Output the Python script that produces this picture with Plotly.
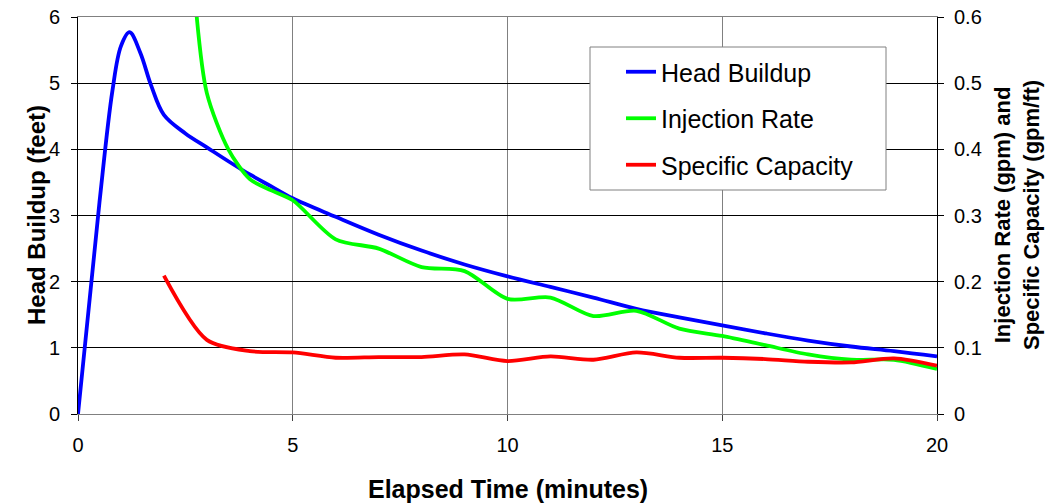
import plotly.graph_objects as go

# Elapsed time (minutes) and head buildup (feet)
head_time = [0, 0.5, 0.8, 1.0, 1.2, 1.45, 1.7, 2.0, 2.5, 3, 3.5, 4, 4.5,
             5, 6, 7, 8, 9, 10, 11, 12, 13, 14, 15, 16, 17, 18, 19, 20]
head_buildup = [0, 3.2, 4.88, 5.56, 5.77, 5.46, 4.97, 4.52, 4.24, 4.03, 3.82,
                3.62, 3.44, 3.26, 2.98, 2.71, 2.47, 2.26, 2.08, 1.92, 1.76, 1.59, 1.46,
                1.34, 1.22, 1.11, 1.02, 0.95, 0.87]

# Injection rate (gpm)
rate_time = [2.5, 2.75, 3, 3.5, 4, 4.5, 5, 6, 7, 8, 9, 10, 11, 12, 13, 14, 15, 16, 17,
             18, 19, 20]
injection_rate = [0.90, 0.61, 0.485, 0.40, 0.355, 0.338, 0.323, 0.264, 0.250, 0.222,
                  0.216, 0.174, 0.176, 0.148, 0.156, 0.129, 0.118, 0.104, 0.090, 0.082,
                  0.082, 0.068]

# Specific capacity (gpm/ft)
cap_time = [2, 3, 4, 5, 6, 7, 8, 9, 10, 11, 12, 13, 14, 15, 16, 17, 18, 19, 20]
specific_capacity = [0.209, 0.112, 0.095, 0.093, 0.085, 0.086, 0.086, 0.090, 0.080,
                     0.087, 0.082, 0.093, 0.085, 0.085, 0.083, 0.079, 0.078, 0.084, 0.073]

FONT = "Liberation Sans, Arial, sans-serif"
LW = 3.8

fig = go.Figure()
fig.add_trace(go.Scatter(x=head_time, y=head_buildup, name="Head Buildup", mode="lines",
                         line=dict(color="#0000FF", width=LW, shape="spline", smoothing=1.0),
                         legendgroup="a"))
fig.add_trace(go.Scatter(x=rate_time, y=injection_rate, name="Injection Rate", mode="lines",
                         line=dict(color="#00FF00", width=LW, shape="spline", smoothing=0.8),
                         yaxis="y2", legendgroup="b"))
fig.add_trace(go.Scatter(x=cap_time, y=specific_capacity, name="Specific Capacity", mode="lines",
                         line=dict(color="#FF0000", width=LW, shape="spline", smoothing=0.8),
                         yaxis="y2", legendgroup="c"))

W, H = 1050, 504
ML, MR, MT, MB = 78, 113, 17, 90
ph = H - MT - MB
pw = W - ML - MR


def px_x(p):
    return (p - ML) / pw


def px_y(p):
    return (H - MB - p) / ph


def title(text, x, y, angle, size):
    return dict(text=text, textangle=angle, xref="paper", yref="paper",
                x=px_x(x), y=px_y(y), xanchor="center", yanchor="middle",
                showarrow=False, font=dict(family=FONT, size=size, color="black"))


fig.update_layout(
    width=W, height=H,
    margin=dict(l=ML, r=MR, t=MT, b=MB, autoexpand=False),
    paper_bgcolor="white", plot_bgcolor="white",
    font=dict(family=FONT, color="black", size=20),
    showlegend=True,
    legend=dict(x=px_x(621), y=px_y(49), xanchor="left", yanchor="top",
                bgcolor="rgba(0,0,0,0)", borderwidth=0,
                font=dict(family=FONT, size=25, color="black"),
                tracegroupgap=11, traceorder="grouped"),
    xaxis=dict(range=[0, 20], dtick=5, tick0=0,
               showgrid=True, gridcolor="#808080", gridwidth=1,
               showline=True, linecolor="#808080", linewidth=1, mirror=True,
               zeroline=False, ticks="outside", ticklen=6, tickcolor="#404040",
               tickfont=dict(size=20), ticklabelstandoff=7, automargin=False),
    yaxis=dict(range=[0, 6], dtick=1, tick0=0,
               showgrid=True, gridcolor="black", gridwidth=1,
               showline=True, linecolor="black", linewidth=1,
               zeroline=False, ticks="outside", ticklen=6, tickcolor="black",
               tickfont=dict(size=20), ticklabelstandoff=7, automargin=False),
    yaxis2=dict(range=[0, 0.6], dtick=0.1, tick0=0, overlaying="y", side="right",
                showgrid=False, showline=True, linecolor="black", linewidth=1,
                zeroline=False, ticks="outside", ticklen=6, tickcolor="black",
                tickfont=dict(size=20), ticklabelstandoff=6, automargin=False),
    annotations=[
        title("<b>Elapsed Time (minutes)</b>", 508, 489, 0, 25),
        title("<b>Head Buildup (feet)</b>", 37, 215, -90, 24),
        title("<b>Injection Rate (gpm) and<br>Specific Capacity (gpm/ft)</b>", 1017, 215, -90, 22),
    ],
    shapes=[dict(type="rect", xref="paper", yref="paper", layer="above",
                 x0=px_x(590), x1=px_x(886), y0=px_y(190), y1=px_y(47),
                 fillcolor="white", line=dict(color="#808080", width=1))],
)

fig.write_html("out.html")
